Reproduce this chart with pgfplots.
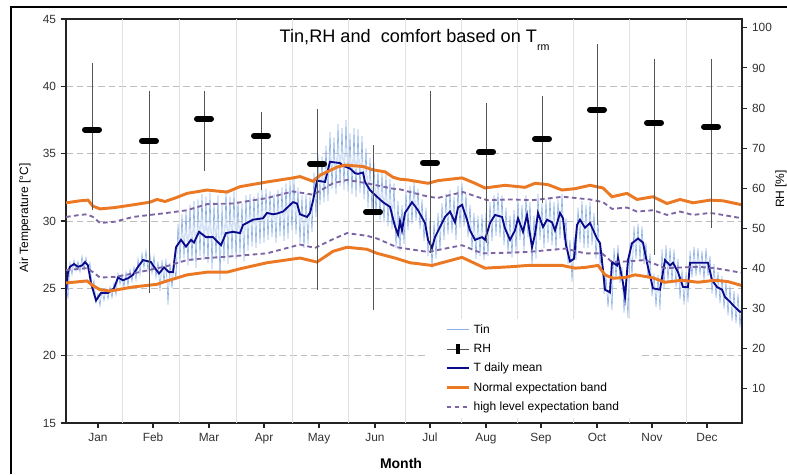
\documentclass[border=0pt]{standalone}
\usepackage{pgfplots}
\pgfplotsset{compat=1.18}
\usepackage{fontspec}
\setmainfont{Liberation Sans}
\definecolor{tinblue}{RGB}{140,175,232}
\definecolor{meannavy}{RGB}{10,10,140}
\definecolor{bandorange}{RGB}{235,120,35}
\definecolor{bandpurple}{RGB}{125,100,165}
\definecolor{rhgray}{RGB}{85,85,85}
\definecolor{gridgray}{RGB}{190,190,190}
\definecolor{vgridgray}{RGB}{225,225,225}
\definecolor{axisdark}{RGB}{35,35,35}
\definecolor{ticktext}{RGB}{50,50,50}
\begin{document}
\begin{tikzpicture}
\useasboundingbox (0,0) rectangle (590.25pt,355.5pt);
\draw[line width=1.5pt, black] (8.25pt,0) -- (8.25pt,350.25pt) -- (590.25pt,350.25pt);
\begin{axis}[
  at={(49.5pt,38.25pt)}, anchor=south west,
  scale only axis, width=507pt, height=303pt,
  xmin=66, xmax=742, ymin=15, ymax=45,
  xtick={98,153,209,264,319,375,430,486,541,597,652,707},
  xticklabels={Jan,Feb,Mar,Apr,May,Jun,Jul,Aug,Sep,Oct,Nov,Dec},
  ytick={15,20,...,45},
  xtick pos=left, ytick pos=left,
  tick align=outside,
  major tick length=4pt,
  tick style={axisdark, line width=0.8pt},
  axis line style={axisdark, line width=1.3pt},
  ymajorgrids,
  major grid style={gridgray, line width=0.6pt, dash pattern=on 5pt off 3pt},
  extra x ticks={122,179,236,292,348,405,461,517,573,629,686},
  extra x tick labels={},
  extra x tick style={grid=major, major grid style={vgridgray, line width=0.5pt, solid}, major tick length=0pt},
  tick label style={font=\fontsize{8.9}{10}\selectfont, text=ticktext},
  /pgf/number format/assume math mode=true,
  legend style={at={(0.531,0.258)}, anchor=north west, draw=none, fill=white,
    font=\fontsize{9}{10}\selectfont, inner xsep=15pt, inner ysep=2pt, row sep=2.6pt},
  legend cell align=left,
]
% Tin (hourly indoor temperature, envelope)
\addplot[tinblue, line width=0.45pt] table[row sep=\\, header=false, x expr=66+2*\coordindex, y index=0] {
25.0\\ 24.3\\ 26.9\\ 26.0\\ 27.1\\ 26.3\\ 27.0\\ 26.2\\ 27.4\\ 26.4\\
27.3\\ 26.4\\ 26.9\\ 25.0\\ 25.6\\ 23.9\\ 24.6\\ 23.7\\ 24.9\\ 24.1\\
25.0\\ 24.2\\ 25.1\\ 24.3\\ 25.4\\ 24.5\\ 26.1\\ 25.3\\ 26.0\\ 25.1\\
26.2\\ 25.2\\ 26.4\\ 25.5\\ 26.6\\ 25.6\\ 27.2\\ 26.0\\ 27.6\\ 26.5\\
27.8\\ 26.3\\ 27.5\\ 26.1\\ 27.4\\ 25.8\\ 27.0\\ 24.8\\ 27.1\\ 25.4\\
27.2\\ 23.8\\ 26.9\\ 25.0\\ 27.0\\ 25.6\\ 29.8\\ 26.9\\ 30.5\\ 27.2\\
30.8\\ 26.7\\ 31.2\\ 27.0\\ 31.5\\ 26.5\\ 31.6\\ 27.4\\ 32.0\\ 27.1\\
31.8\\ 26.9\\ 32.1\\ 26.4\\ 31.4\\ 27.2\\ 31.9\\ 25.6\\ 31.2\\ 27.0\\
32.3\\ 26.8\\ 31.8\\ 27.5\\ 32.2\\ 27.2\\ 31.5\\ 27.6\\ 31.3\\ 27.0\\
31.9\\ 27.8\\ 32.0\\ 28.1\\ 31.8\\ 28.0\\ 32.1\\ 28.3\\ 32.3\\ 28.4\\
32.4\\ 28.6\\ 32.2\\ 28.8\\ 32.0\\ 28.4\\ 32.3\\ 28.9\\ 32.5\\ 28.5\\
32.8\\ 28.7\\ 33.0\\ 29.3\\ 33.1\\ 29.0\\ 32.5\\ 28.4\\ 31.9\\ 28.0\\
32.0\\ 28.3\\ 31.8\\ 29.2\\ 33.6\\ 30.3\\ 35.0\\ 31.2\\ 34.8\\ 31.4\\
35.6\\ 31.5\\ 36.6\\ 32.4\\ 36.2\\ 32.0\\ 37.2\\ 32.6\\ 36.9\\ 32.3\\
37.5\\ 32.2\\ 36.5\\ 32.0\\ 36.9\\ 31.8\\ 36.8\\ 32.1\\ 36.3\\ 31.6\\
35.4\\ 31.0\\ 34.7\\ 30.6\\ 34.3\\ 30.4\\ 33.8\\ 30.1\\ 33.6\\ 29.9\\
33.4\\ 29.6\\ 33.1\\ 29.4\\ 32.8\\ 28.0\\ 31.5\\ 27.8\\ 31.2\\ 28.3\\
32.2\\ 29.3\\ 32.6\\ 29.8\\ 32.9\\ 30.0\\ 32.4\\ 29.4\\ 31.6\\ 28.5\\
31.0\\ 27.4\\ 30.2\\ 26.5\\ 30.0\\ 27.2\\ 30.6\\ 27.8\\ 31.3\\ 28.6\\
32.0\\ 29.0\\ 32.3\\ 29.1\\ 31.8\\ 28.6\\ 32.6\\ 29.5\\ 32.8\\ 29.6\\
32.0\\ 28.8\\ 31.2\\ 27.8\\ 30.6\\ 27.2\\ 30.4\\ 27.4\\ 30.5\\ 27.1\\
30.6\\ 27.4\\ 31.4\\ 28.5\\ 31.9\\ 28.9\\ 32.1\\ 28.8\\ 31.9\\ 28.2\\
31.0\\ 27.6\\ 30.4\\ 27.3\\ 30.8\\ 27.8\\ 31.6\\ 28.6\\ 31.2\\ 27.8\\
31.9\\ 28.8\\ 31.4\\ 26.6\\ 30.4\\ 27.2\\ 32.0\\ 28.6\\ 31.3\\ 28.0\\
31.6\\ 28.4\\ 31.7\\ 28.2\\ 31.4\\ 27.8\\ 31.6\\ 28.7\\ 32.0\\ 28.6\\
30.2\\ 26.8\\ 28.6\\ 25.5\\ 28.8\\ 27.1\\ 31.0\\ 28.4\\ 31.5\\ 28.0\\
31.2\\ 28.0\\ 31.4\\ 28.2\\ 30.6\\ 27.2\\ 30.1\\ 26.8\\ 27.6\\ 24.6\\
25.9\\ 23.6\\ 25.6\\ 23.4\\ 28.0\\ 25.7\\ 28.2\\ 25.4\\ 26.6\\ 23.2\\
25.6\\ 22.8\\ 28.4\\ 25.9\\ 29.6\\ 27.2\\ 29.8\\ 27.1\\ 29.6\\ 26.8\\
28.4\\ 25.7\\ 27.6\\ 24.4\\ 26.1\\ 23.6\\ 26.0\\ 23.4\\ 27.9\\ 25.0\\
28.2\\ 25.5\\ 28.0\\ 25.4\\ 27.9\\ 25.1\\ 27.2\\ 24.2\\ 26.4\\ 23.8\\
26.2\\ 24.0\\ 27.8\\ 25.8\\ 28.1\\ 25.9\\ 28.0\\ 26.0\\ 27.8\\ 25.6\\
28.0\\ 25.9\\ 27.4\\ 24.6\\ 26.8\\ 24.3\\ 26.2\\ 23.9\\ 25.9\\ 23.5\\
25.5\\ 23.0\\ 25.2\\ 22.6\\ 24.8\\ 22.4\\ 24.6\\ 22.1\\ 24.4\\
};
\addlegendentry{Tin}
\addlegendimage{legend image code/.code={
  \draw[rhgray, line width=0.7pt] (0cm,0cm) -- (0.6cm,0cm);
  \draw[black, line width=2.4pt] (0.3cm,-0.13cm) -- (0.3cm,0.13cm);}}
\addlegendentry{RH}
% T daily mean
\addplot[meannavy, line width=1.4pt] coordinates {
(66,24.6)(68,26.2)(70,26.6)(74,26.8)(78,26.6)(82,26.7)(85,26.95)(88,26.7)(91,25.4)(96,24.1)
(101,24.65)(108,24.65)(114,25.0)(118,25.8)(123,25.6)(128,25.75)(133,26.0)(138,26.6)(143,27.1)
(151,26.95)(154,26.6)(159,26.1)(164,26.55)(169,26.2)(173,26.2)(176,28.05)(181,28.6)(186,28.1)
(191,28.6)(194,28.4)(199,29.2)(206,28.8)(213,28.8)(221,28.2)(226,29.1)(233,29.2)(240,29.1)
(243,29.7)(253,30.1)(263,30.2)(267,30.6)(273,30.5)(277,30.55)(283,30.7)(293,31.4)(297,31.3)
(300,30.5)(307,30.3)(310,30.6)(313,31.5)(317,33.0)(325,32.9)(330,34.4)(340,34.3)(343,34.1)
(350,33.9)(355,33.55)(358,33.5)(363,33.6)(365,32.9)(370,32.3)(377,31.8)(383,31.4)(390,31.05)
(395,29.6)(398,29.0)(400,30.0)(402,29.3)(405,30.6)(412,31.4)(418,30.8)(425,29.85)(428,28.6)
(432,28.0)(435,28.8)(442,29.85)(445,30.3)(450,30.7)(455,29.9)(458,31.0)(462,31.2)(467,30.1)
(470,29.3)(475,28.6)(482,28.8)(485,28.6)(490,29.85)(495,30.45)(502,30.3)(505,29.45)(510,28.6)
(515,29.3)(518,30.2)(523,29.2)(527,30.45)(532,28.05)(535,29.0)(538,30.6)(543,29.55)(547,30.1)
(552,29.9)(555,29.3)(560,30.6)(563,30.2)(566,28.2)(570,27.0)(574,27.2)(577,29.7)(580,30.1)
(585,29.5)(590,29.85)(597,28.7)(600,28.35)(603,26.35)(605,24.9)(610,24.7)(612,26.95)(617,26.7)
(618,27.25)(623,25.4)(625,24.35)(628,27.1)(632,28.35)(638,28.7)(643,28.4)(647,26.9)(653,25.0)
(660,24.9)(665,27.1)(670,26.7)(673,26.9)(678,26.2)(683,25.1)(688,25.1)(690,26.9)(697,26.9)
(703,26.9)(708,26.9)(712,25.6)(717,25.1)(722,24.9)(725,24.35)(730,24.0)(735,23.6)(740,23.25)(742,23.3)
};
\addlegendentry{T daily mean}
% Normal expectation band (upper)
\addplot[bandorange, line width=2.2pt] coordinates {
(66,31.35)(80,31.5)(88,31.55)(93,31.1)(100,30.9)(115,31.0)(133,31.2)(150,31.4)(157,31.6)(165,31.45)
(175,31.7)(187,32.05)(207,32.3)(220,32.2)(227,32.15)(240,32.55)(267,32.9)(293,33.2)(300,33.3)
(313,32.95)(320,33.4)(337,34.0)(345,34.15)(363,34.05)(373,33.8)(385,33.65)(393,33.25)(400,33.1)
(408,33.05)(428,32.8)(438,33.0)(462,33.2)(475,32.8)(485,32.45)(505,32.65)(525,32.5)(535,32.8)
(548,32.7)(562,32.3)(575,32.4)(590,32.65)(603,32.45)(612,31.8)(627,32.05)(637,31.6)(653,31.8)
(667,31.3)(680,31.6)(693,31.35)(710,31.55)(723,31.5)(742,31.2)
};
\addlegendentry{Normal expectation band}
% Normal expectation band (lower)
\addplot[bandorange, line width=2.2pt, forget plot] coordinates {
(66,25.4)(80,25.5)(87,25.55)(93,25.2)(100,24.9)(110,24.8)(133,25.1)(157,25.3)(167,25.55)(187,26.0)
(207,26.2)(227,26.2)(240,26.45)(267,26.9)(300,27.25)(317,26.95)(333,27.75)(347,28.05)(367,27.9)
(377,27.6)(395,27.25)(410,26.9)(432,26.7)(462,27.3)(485,26.5)(510,26.6)(528,26.7)(562,26.7)
(575,26.5)(585,26.55)(598,26.7)(605,26.0)(613,25.75)(625,25.8)(635,26.0)(652,25.8)(665,25.45)
(682,25.6)(698,25.45)(715,25.6)(728,25.5)(742,25.2)
};
% high level expectation band (upper)
\addplot[bandpurple, line width=1.4pt, dash pattern=on 3.5pt off 2.5pt] coordinates {
(66,30.3)(80,30.45)(87,30.5)(93,30.3)(100,29.85)(115,29.95)(133,30.3)(167,30.6)(187,30.8)
(207,31.25)(233,31.3)(267,31.7)(293,32.2)(313,31.95)(333,32.8)(347,33.05)(367,32.8)(393,32.4)
(400,32.35)(423,31.9)(437,31.7)(463,32.15)(487,31.55)(510,31.6)(533,31.55)(563,31.8)(590,31.6)
(603,31.4)(612,30.9)(627,31.0)(637,30.7)(653,30.8)(667,30.45)(680,30.7)(693,30.45)(710,30.6)
(723,30.45)(742,30.2)
};
\addlegendentry{high level expectation band}
% high level expectation band (lower)
\addplot[bandpurple, line width=1.4pt, dash pattern=on 3.5pt off 2.5pt, forget plot] coordinates {
(66,26.35)(80,26.45)(87,26.5)(93,26.2)(100,25.8)(115,25.85)(133,26.1)(167,26.65)(187,27.1)
(207,27.25)(227,27.35)(267,27.6)(300,28.25)(315,28.0)(333,28.65)(347,29.1)(367,28.9)(377,28.7)
(397,28.05)(428,27.7)(462,28.2)(482,27.6)(510,27.65)(528,27.7)(565,27.95)(585,27.6)(602,27.6)
(612,26.95)(627,27.0)(645,27.1)(665,26.5)(698,26.6)(715,26.5)(742,26.15)
};
\end{axis}
\begin{axis}[
  at={(49.5pt,38.25pt)}, anchor=south west,
  scale only axis, width=507pt, height=303pt,
  xmin=66, xmax=742, ymin=1.5, ymax=102.2,
  axis x line=none, axis y line*=right,
  ytick={10,20,...,100},
  tick align=outside, major tick length=4pt,
  tick style={axisdark, line width=0.8pt},
  axis line style={axisdark, line width=1.3pt},
  tick label style={font=\fontsize{8.9}{10}\selectfont, text=ticktext},
  /pgf/number format/assume math mode=true,
]
% RH monthly: median with min-max range
\addplot[black, only marks, mark=-, mark size=5.25pt,
  mark options={line width=4.5pt, line cap=round},
  error bars/.cd, y dir=both, y explicit, error mark=none,
  error bar style={rhgray, line width=0.7pt}]
coordinates {
(92,74.6) += (0,16.7) -= (0,20.0)
(149,71.8) += (0,12.5) -= (0,37.9)
(204,77.3) += (0,7.0) -= (0,12.9)
(261,73.1) += (0,6.0) -= (0,13.5)
(317,66.1) += (0,13.7) -= (0,31.4)
(373,54.1) += (0,16.7) -= (0,24.4)
(430,66.4) += (0,17.9) -= (0,22.5)
(486,69.1) += (0,12.2) -= (0,22.7)
(542,72.3) += (0,10.8) -= (0,15.9)
(597,79.6) += (0,16.4) -= (0,28.7)
(654,76.3) += (0,16.0) -= (0,32.9)
(711,75.3) += (0,17.0) -= (0,25.2)
};
\end{axis}
\node[anchor=base west, font=\fontsize{13.6}{15}\selectfont] at (206.25pt,323.25pt)
  {Tin,RH and\ \ comfort based on T\raisebox{-0.4em}{\fontsize{8}{9}\selectfont rm}};
\node[anchor=base, font=\bfseries\fontsize{10.5}{12}\selectfont] at (300.75pt,4.5pt) {Month};
\node[rotate=90, font=\fontsize{9}{10}\selectfont] at (18.75pt,192pt) {Air Temperature [°C]};
\node[rotate=90, font=\fontsize{9}{10}\selectfont] at (585.75pt,213.75pt) {RH [\%]};
\end{tikzpicture}
\end{document}
